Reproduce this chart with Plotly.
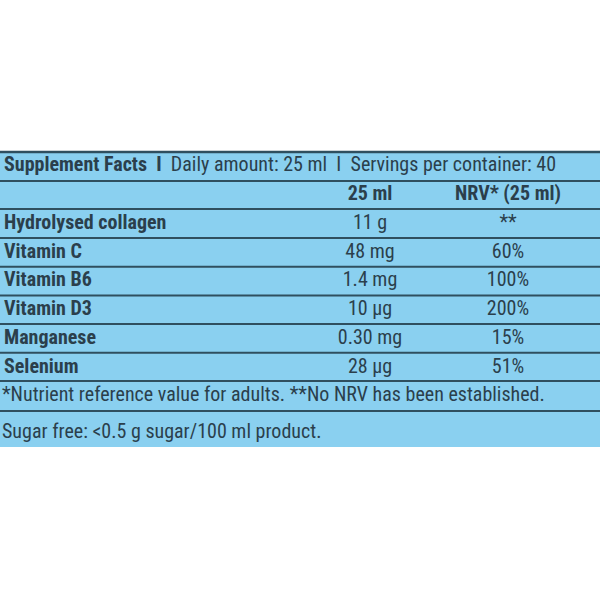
import plotly.graph_objects as go

nutrients = ["Hydrolysed collagen", "Vitamin C", "Vitamin B6", "Vitamin D3", "Manganese", "Selenium"]
amounts = ["11 g", "48 mg", "1.4 mg", "10 µg", "0.30 mg", "28 µg"]
nrv = ["**", "60%", "100%", "200%", "15%", "51%"]
col_headers = ["25 ml", "NRV* (25 ml)"]
footnote = "*Nutrient reference value for adults. **No NRV has been established."
sugar_note = "Sugar free: <0.5 g sugar/100 ml product."

FONT = "Roboto Condensed, Liberation Sans Narrow, Roboto, sans-serif"
INK = "#2b3f4c"
LINE = "#2f4f5f"
SIZE = 20
row_y = [224 + 28.7 * i for i in range(len(nutrients))]

fig = go.Figure()
fig.add_shape(type="rect", x0=0, x1=600, y0=151, y1=447, fillcolor="#8ad0f0", line_width=0, layer="below")
for y, w in [(152, 2.5), (181, 2), (209, 2)] + [(238 + 28.7 * i, 2) for i in range(5)] + [(381, 2), (411, 2)]:
    fig.add_shape(type="line", x0=0, x1=600, y0=y, y1=y, line=dict(color=LINE, width=w))

fig.add_trace(go.Scatter(x=[4], y=[166], mode="text", textposition="middle right",
                         text=["<b>Supplement Facts  I</b>  Daily amount: 25 ml  I  Servings per container: 40"],
                         textfont=dict(family=FONT, size=SIZE, color=INK)))
fig.add_trace(go.Scatter(x=[370, 508], y=[195, 195], mode="text",
                         text=["<b>%s</b>" % h for h in col_headers],
                         textfont=dict(family=FONT, size=SIZE, color=INK)))
fig.add_trace(go.Scatter(x=[4] * len(nutrients), y=row_y, mode="text", textposition="middle right",
                         text=["<b>%s</b>" % n for n in nutrients],
                         textfont=dict(family=FONT, size=SIZE, color=INK)))
fig.add_trace(go.Scatter(x=[370] * len(amounts), y=row_y, mode="text", text=amounts,
                         textfont=dict(family=FONT, size=SIZE, color=INK)))
fig.add_trace(go.Scatter(x=[508] * len(nrv), y=row_y, mode="text", text=nrv,
                         textfont=dict(family=FONT, size=SIZE, color=INK)))
fig.add_trace(go.Scatter(x=[2, 2], y=[396, 433], mode="text", textposition="middle right",
                         text=[footnote, sugar_note],
                         textfont=dict(family=FONT, size=SIZE, color=INK)))

fig.update_layout(width=600, height=600, margin=dict(l=0, r=0, t=0, b=0),
                  paper_bgcolor="white", plot_bgcolor="white", showlegend=False,
                  xaxis=dict(range=[0, 600], visible=False, fixedrange=True),
                  yaxis=dict(range=[600, 0], visible=False, fixedrange=True))
fig.write_html("out.html", config={"displayModeBar": False},
               post_script="document.body.style.margin='0';document.body.style.overflow='hidden';")
